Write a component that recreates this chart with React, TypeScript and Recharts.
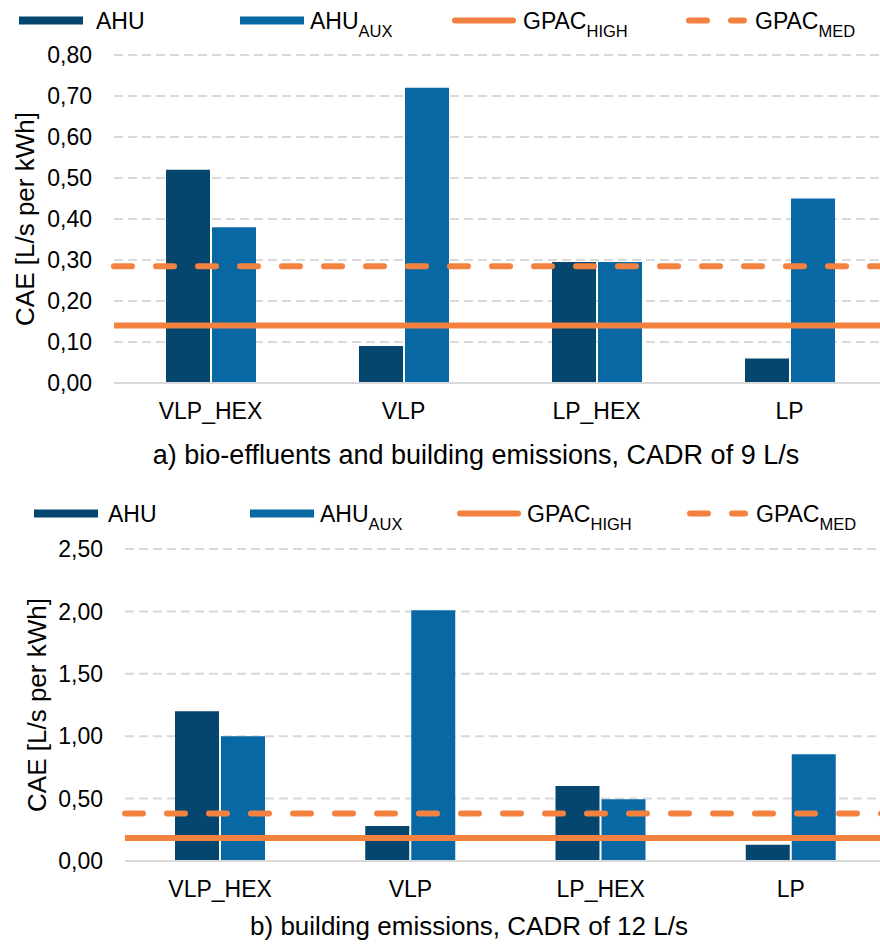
import { Bar, BarChart, CartesianGrid, ReferenceLine, XAxis, YAxis } from "recharts";

const FONT = "'Liberation Sans', Arial, sans-serif";
const AHU_COLOR = "#05466F";
const AUX_COLOR = "#0868A4";
const GPAC_COLOR = "#F38240";
const GRID = "#D9D9D9";

const CATEGORIES = ["VLP_HEX", "VLP", "LP_HEX", "LP"];

// panel a) bio-effluents and building emissions, CADR 9 L/s
const AHU_A = [0.52, 0.09, 0.295, 0.06];
const AUX_A = [0.38, 0.72, 0.295, 0.45];
const GPAC_HIGH_A = 0.14;
const GPAC_MED_A = 0.285;
const TICKS_A = [0, 0.1, 0.2, 0.3, 0.4, 0.5, 0.6, 0.7, 0.8];

// panel b) building emissions, CADR 12 L/s
const AHU_B = [1.2, 0.28, 0.6, 0.13];
const AUX_B = [1.0, 2.01, 0.495, 0.855];
const GPAC_HIGH_B = 0.185;
const GPAC_MED_B = 0.38;
const TICKS_B = [0, 0.5, 1, 1.5, 2, 2.5];

const LEGEND_NAMES = ["AHU", "AHU", "GPAC", "GPAC"];
const LEGEND_SUBS = ["", "AUX", "HIGH", "MED"];

const fmt = (v: number) => v.toFixed(2).replace(".", ",");

function rows(ahu: number[], aux: number[]) {
  return CATEGORIES.map((cat, i) => ({ cat, ahu: ahu[i], aux: aux[i] }));
}

function yTitle(x: number) {
  return (props: any) => {
    const vb = props.viewBox ?? {};
    const cy = (vb.y ?? 0) + (vb.height ?? 0) / 2;
    return (
      <text
        x={x}
        y={cy}
        transform={`rotate(-90 ${x} ${cy})`}
        textAnchor="middle"
        dominantBaseline="central"
        fontFamily={FONT}
        fontSize={26}
        fill="#000"
      >
        CAE [L/s per kWh]
      </text>
    );
  };
}

function Legend({ swatchX, textX, y }: { swatchX: number[]; textX: number[]; y: number }) {
  return (
    <g>
      {LEGEND_NAMES.map((name, i) => {
        const sx = swatchX[i];
        const cy = y - 8.5;
        let swatch;
        if (i < 2) {
          swatch = <rect x={sx} y={cy - 4} width={64} height={8} fill={i === 0 ? AHU_COLOR : AUX_COLOR} />;
        } else if (i === 2) {
          swatch = <line x1={sx + 3} x2={sx + 61} y1={cy} y2={cy} stroke={GPAC_COLOR} strokeWidth={6} strokeLinecap="round" />;
        } else {
          swatch = (
            <line x1={sx + 3} x2={sx + 58} y1={cy} y2={cy} stroke={GPAC_COLOR} strokeWidth={6}
              strokeLinecap="round" strokeDasharray="18 24" />
          );
        }
        return (
          <g key={i}>
            {swatch}
            <text x={textX[i]} y={y} fontFamily={FONT} fontSize={23} fill="#000">
              {name}
              {LEGEND_SUBS[i] && (
                <tspan fontSize={16.5} dy={7.5}>
                  {LEGEND_SUBS[i]}
                </tspan>
              )}
            </text>
          </g>
        );
      })}
    </g>
  );
}

function Panel({
  data,
  high,
  med,
  ticks,
  yAxisWidth,
  height,
  top,
  xAxisHeight,
  titleX,
}: {
  data: { cat: string; ahu: number; aux: number }[];
  high: number;
  med: number;
  ticks: number[];
  yAxisWidth: number;
  height: number;
  top: number;
  xAxisHeight: number;
  titleX: number;
}) {
  return (
    <BarChart
      width={886}
      height={height}
      data={data}
      margin={{ top, right: 0, bottom: 0, left: 0 }}
      barSize={44}
      barGap={2}
    >
      <CartesianGrid vertical={false} stroke={GRID} strokeWidth={2} strokeDasharray="9 5" />
      <XAxis
        dataKey="cat"
        height={xAxisHeight}
        tickLine={false}
        tickSize={0}
        tickMargin={20}
        axisLine={{ stroke: GRID, strokeWidth: 2 }}
        tick={{ fill: "#000", fontSize: 23, fontFamily: FONT }}
        interval={0}
      />
      <YAxis
        width={yAxisWidth}
        domain={[ticks[0], ticks[ticks.length - 1]]}
        ticks={ticks}
        tickFormatter={fmt}
        axisLine={false}
        tickLine={false}
        tickSize={0}
        tickMargin={22}
        tick={{ fill: "#000", fontSize: 23, fontFamily: FONT }}
        label={{ content: yTitle(titleX) }}
      />
      <Bar dataKey="ahu" fill={AHU_COLOR} isAnimationActive={false} />
      <Bar dataKey="aux" fill={AUX_COLOR} isAnimationActive={false} />
      <ReferenceLine y={high} stroke={GPAC_COLOR} strokeWidth={6} />
      <ReferenceLine y={med} stroke={GPAC_COLOR} strokeWidth={6} strokeDasharray="18 24" strokeLinecap="round" />
    </BarChart>
  );
}

export default function App() {
  return (
    <div
      style={{
        position: "absolute",
        left: 0,
        top: 0,
        width: 880,
        height: 944,
        overflow: "hidden",
        background: "#fff",
        fontFamily: FONT,
      }}
    >
      <div style={{ position: "absolute", left: 0, top: 0 }}>
        <Panel data={rows(AHU_A, AUX_A)} high={GPAC_HIGH_A} med={GPAC_MED_A} ticks={TICKS_A}
          yAxisWidth={114} height={430} top={55} xAxisHeight={47} titleX={25} />
      </div>
      <div style={{ position: "absolute", left: 0, top: 480 }}>
        <Panel data={rows(AHU_B, AUX_B)} high={GPAC_HIGH_B} med={GPAC_MED_B} ticks={TICKS_B}
          yAxisWidth={125} height={440} top={69} xAxisHeight={59} titleX={37} />
      </div>
      <svg width={880} height={944} style={{ position: "absolute", left: 0, top: 0, pointerEvents: "none" }}>
        <Legend swatchX={[19, 240, 452, 686]} textX={[96, 310, 523, 755]} y={29} />
        <Legend swatchX={[34, 250, 457, 687]} textX={[108, 320, 527, 756]} y={522} />
        <text x={476} y={464} textAnchor="middle" fontFamily={FONT} fontSize={27} fill="#000">
          a) bio-effluents and building emissions, CADR of 9 L/s
        </text>
        <text x={469} y={935} textAnchor="middle" fontFamily={FONT} fontSize={26} fill="#000">
          b) building emissions, CADR of 12 L/s
        </text>
      </svg>
    </div>
  );
}
